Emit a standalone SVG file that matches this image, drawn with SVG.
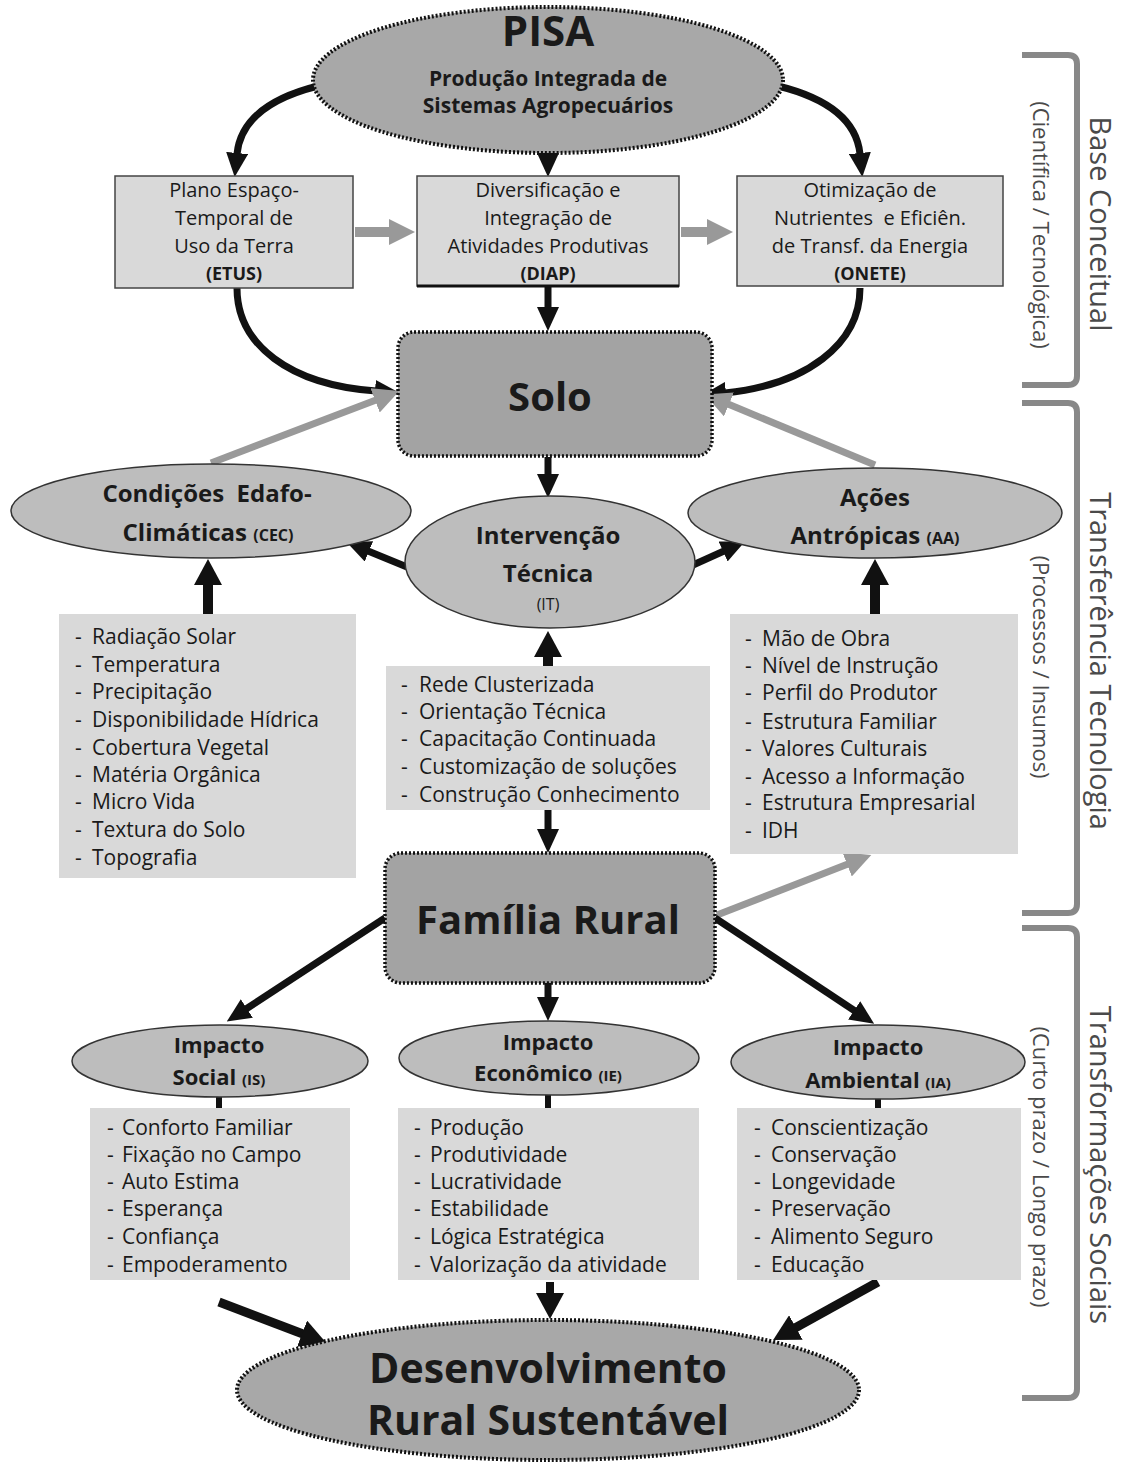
<svg xmlns="http://www.w3.org/2000/svg" width="1124" height="1463" viewBox="0 0 1124 1463">
<style>
text{font-family:"Open Sans","Noto Sans","Liberation Sans",sans-serif;fill:#1a1a1a}
.b{font-weight:bold}
.m{text-anchor:middle}
.li{font-size:21px}
.bx{font-size:20px}
.dot{stroke:#111;stroke-width:4;stroke-dasharray:2 2}
.box{fill:#d9d9d9;stroke:#444;stroke-width:1.5}
.list{fill:#d9d9d9}
.ell{fill:#bdbdbd;stroke:#333;stroke-width:1.5}
.k{fill:none;stroke:#111;stroke-width:7}
.g{fill:none;stroke:#999;stroke-width:7}
.br{fill:none;stroke:#888;stroke-width:6}
.side{fill:#4a4a4a}
</style>
<defs>
<marker id="ak" viewBox="0 0 24 22" markerWidth="24" markerHeight="22" markerUnits="userSpaceOnUse" refX="1" refY="11" orient="auto"><path d="M0,0 L24,11 L0,22 z" fill="#111"/></marker>
<marker id="akb" viewBox="0 0 26 28" markerWidth="26" markerHeight="28" markerUnits="userSpaceOnUse" refX="1" refY="14" orient="auto"><path d="M0,0 L26,14 L0,28 z" fill="#111"/></marker>
<marker id="ag" viewBox="0 0 26 26" markerWidth="26" markerHeight="26" markerUnits="userSpaceOnUse" refX="1" refY="13" orient="auto"><path d="M0,0 L26,13 L0,26 z" fill="#999"/></marker>
</defs>

<g id="connectors">
<path class="k" d="M318 86 Q242 105 237 154" marker-end="url(#ak)"/>
<path class="k" d="M778 86 Q855 105 860 154" marker-end="url(#ak)"/>
<path class="k" d="M548 148 L548 154" marker-end="url(#ak)"/>
<path class="g" style="stroke-width:10" d="M355 232 L390 232" marker-end="url(#ag)"/>
<path class="g" style="stroke-width:10" d="M681 232 L708 232" marker-end="url(#ag)"/>
<path class="k" d="M548 286 L548 308" marker-end="url(#ak)"/>
<path class="k" d="M237 288 C237 345 290 385 376 391" marker-end="url(#ak)"/>
<path class="k" d="M860 288 C860 345 805 385 725 393" marker-end="url(#ak)"/>
<path class="g" d="M211 463 L376 400" marker-end="url(#ag)"/>
<path class="g" d="M875 465 L728 404" marker-end="url(#ag)"/>
<path class="k" d="M548 457 L548 475" marker-end="url(#ak)"/>
<path class="k" d="M407 567 L368 551" marker-end="url(#ak)"/>
<path class="k" d="M693 565 L724 551" marker-end="url(#ak)"/>
<path class="k" style="stroke-width:10" d="M208 614 L208 584" marker-end="url(#akb)"/>
<path class="k" style="stroke-width:10" d="M875 614 L875 584" marker-end="url(#akb)"/>
<path class="k" style="stroke-width:10" d="M548 666 L548 656" marker-end="url(#akb)"/>
<path class="k" d="M548 810 L548 830" marker-end="url(#ak)"/>
<path class="g" d="M717 915 L848 864" marker-end="url(#ag)"/>
<path class="k" d="M385 918 L246 1009" marker-end="url(#ak)"/>
<path class="k" d="M548 983 L548 998" marker-end="url(#ak)"/>
<path class="k" d="M715 918 L855 1011" marker-end="url(#ak)"/>
<path class="k" style="stroke-width:6" d="M219 1096 L219 1108 M548 1094 L548 1108 M878 1097 L878 1108"/>
<path class="k" style="stroke-width:9" d="M219 1302 L303 1334" marker-end="url(#akb)"/>
<path class="k" style="stroke-width:8" d="M550 1282 L550 1294" marker-end="url(#akb)"/>
<path class="k" style="stroke-width:9" d="M878 1282 L795 1328" marker-end="url(#akb)"/>
</g>

<g id="pisa">
<ellipse cx="548" cy="80" rx="235" ry="73" fill="#a8a8a8" class="dot"/>
<text class="b m" x="548" y="46" font-size="42">PISA</text>
<text class="b m" x="548" y="86" font-size="21">Produção Integrada de</text>
<text class="b m" x="548" y="113" font-size="21">Sistemas Agropecuários</text>
</g>

<g id="etus">
<rect class="box" x="115" y="176" width="238" height="112"/>
<text class="m bx" x="234" y="197">Plano Espaço-</text>
<text class="m bx" x="234" y="225">Temporal de</text>
<text class="m bx" x="234" y="253">Uso da Terra</text>
<text class="m b" x="234" y="280" font-size="18">(ETUS)</text>
</g>

<g id="diap">
<rect class="box" x="417" y="176" width="262" height="110"/>
<line x1="417" y1="286" x2="679" y2="286" stroke="#111" stroke-width="3"/>
<text class="m bx" x="548" y="197">Diversificação e</text>
<text class="m bx" x="548" y="225">Integração de</text>
<text class="m bx" x="548" y="253">Atividades Produtivas</text>
<text class="m b" x="548" y="280" font-size="18">(DIAP)</text>
</g>

<g id="onete">
<rect class="box" x="737" y="176" width="266" height="110"/>
<text class="m bx" x="870" y="197">Otimização de</text>
<text class="m bx" x="870" y="225">Nutrientes&#160; e Eficiên.</text>
<text class="m bx" x="870" y="253">de Transf. da Energia</text>
<text class="m b" x="870" y="280" font-size="18">(ONETE)</text>
</g>

<g id="solo">
<rect x="398" y="332" width="314" height="124" rx="16" fill="#a3a3a3" class="dot" style="stroke-width:3.5"/>
<text class="b m" x="550" y="411" font-size="40">Solo</text>
</g>

<g id="cec">
<ellipse class="ell" cx="211" cy="511" rx="200" ry="47"/>
<text class="b m" x="207" y="502" font-size="24">Condições&#160;&#160;Edafo-</text>
<text class="b m" x="208" y="541" font-size="24">Climáticas <tspan font-size="16">(CEC)</tspan></text>
</g>

<g id="it">
<ellipse class="ell" cx="550" cy="562" rx="145" ry="66"/>
<text class="b m" x="548" y="544" font-size="24">Intervenção</text>
<text class="b m" x="548" y="582" font-size="24">Técnica</text>
<text class="m" x="548" y="610" font-size="16">(IT)</text>
</g>

<g id="aa">
<ellipse class="ell" cx="875" cy="513" rx="187" ry="45"/>
<text class="b m" x="875" y="506" font-size="24">Ações</text>
<text class="b m" x="875" y="544" font-size="24">Antrópicas <tspan font-size="16">(AA)</tspan></text>
</g>

<g id="cec-list">
<rect class="list" x="59" y="614" width="297" height="264"/>
<text class="li"><tspan x="75" y="644">-</tspan><tspan x="92">Radiação Solar</tspan></text>
<text class="li"><tspan x="75" y="672">-</tspan><tspan x="92">Temperatura</tspan></text>
<text class="li"><tspan x="75" y="699">-</tspan><tspan x="92">Precipitação</tspan></text>
<text class="li"><tspan x="75" y="727">-</tspan><tspan x="92">Disponibilidade Hídrica</tspan></text>
<text class="li"><tspan x="75" y="755">-</tspan><tspan x="92">Cobertura Vegetal</tspan></text>
<text class="li"><tspan x="75" y="782">-</tspan><tspan x="92">Matéria Orgânica</tspan></text>
<text class="li"><tspan x="75" y="809">-</tspan><tspan x="92">Micro Vida</tspan></text>
<text class="li"><tspan x="75" y="837">-</tspan><tspan x="92">Textura do Solo</tspan></text>
<text class="li"><tspan x="75" y="865">-</tspan><tspan x="92">Topografia</tspan></text>
</g>

<g id="it-list">
<rect class="list" x="386" y="666" width="324" height="144"/>
<text class="li"><tspan x="401" y="692">-</tspan><tspan x="419">Rede Clusterizada</tspan></text>
<text class="li"><tspan x="401" y="719">-</tspan><tspan x="419">Orientação Técnica</tspan></text>
<text class="li"><tspan x="401" y="746">-</tspan><tspan x="419">Capacitação Continuada</tspan></text>
<text class="li"><tspan x="401" y="774">-</tspan><tspan x="419">Customização de soluções</tspan></text>
<text class="li"><tspan x="401" y="802">-</tspan><tspan x="419">Construção Conhecimento</tspan></text>
</g>

<g id="aa-list">
<rect class="list" x="730" y="614" width="288" height="240"/>
<text class="li"><tspan x="745" y="646">-</tspan><tspan x="762">Mão de Obra</tspan></text>
<text class="li"><tspan x="745" y="673">-</tspan><tspan x="762">Nível de Instrução</tspan></text>
<text class="li"><tspan x="745" y="700">-</tspan><tspan x="762">Perfil do Produtor</tspan></text>
<text class="li"><tspan x="745" y="729">-</tspan><tspan x="762">Estrutura Familiar</tspan></text>
<text class="li"><tspan x="745" y="756">-</tspan><tspan x="762">Valores Culturais</tspan></text>
<text class="li"><tspan x="745" y="784">-</tspan><tspan x="762">Acesso a Informação</tspan></text>
<text class="li"><tspan x="745" y="810">-</tspan><tspan x="762">Estrutura Empresarial</tspan></text>
<text class="li"><tspan x="745" y="838">-</tspan><tspan x="762">IDH</tspan></text>
</g>

<g id="familia">
<rect x="385" y="853" width="330" height="130" rx="16" fill="#a3a3a3" class="dot" style="stroke-width:3.5"/>
<text class="b m" x="548" y="934" font-size="40">Família Rural</text>
</g>

<g id="is">
<ellipse class="ell" cx="220" cy="1061" rx="148" ry="36"/>
<text class="b m" x="219" y="1053" font-size="22">Impacto</text>
<text class="b m" x="219" y="1085" font-size="22">Social <tspan font-size="15">(IS)</tspan></text>
</g>

<g id="ie">
<ellipse class="ell" cx="549" cy="1058" rx="150" ry="37"/>
<text class="b m" x="548" y="1050" font-size="22">Impacto</text>
<text class="b m" x="548" y="1081" font-size="22">Econômico <tspan font-size="15">(IE)</tspan></text>
</g>

<g id="ia">
<ellipse class="ell" cx="878" cy="1062" rx="147" ry="37"/>
<text class="b m" x="878" y="1055" font-size="22">Impacto</text>
<text class="b m" x="878" y="1088" font-size="22">Ambiental <tspan font-size="15">(IA)</tspan></text>
</g>

<g id="is-list">
<rect class="list" x="90" y="1108" width="260" height="172"/>
<text class="li"><tspan x="107" y="1135">-</tspan><tspan x="122">Conforto Familiar</tspan></text>
<text class="li"><tspan x="107" y="1162">-</tspan><tspan x="122">Fixação no Campo</tspan></text>
<text class="li"><tspan x="107" y="1189">-</tspan><tspan x="122">Auto Estima</tspan></text>
<text class="li"><tspan x="107" y="1216">-</tspan><tspan x="122">Esperança</tspan></text>
<text class="li"><tspan x="107" y="1244">-</tspan><tspan x="122">Confiança</tspan></text>
<text class="li"><tspan x="107" y="1272">-</tspan><tspan x="122">Empoderamento</tspan></text>
</g>

<g id="ie-list">
<rect class="list" x="398" y="1108" width="301" height="172"/>
<text class="li"><tspan x="414" y="1135">-</tspan><tspan x="430">Produção</tspan></text>
<text class="li"><tspan x="414" y="1162">-</tspan><tspan x="430">Produtividade</tspan></text>
<text class="li"><tspan x="414" y="1189">-</tspan><tspan x="430">Lucratividade</tspan></text>
<text class="li"><tspan x="414" y="1216">-</tspan><tspan x="430">Estabilidade</tspan></text>
<text class="li"><tspan x="414" y="1244">-</tspan><tspan x="430">Lógica Estratégica</tspan></text>
<text class="li"><tspan x="414" y="1272">-</tspan><tspan x="430">Valorização da atividade</tspan></text>
</g>

<g id="ia-list">
<rect class="list" x="737" y="1108" width="284" height="172"/>
<text class="li"><tspan x="754" y="1135">-</tspan><tspan x="771">Conscientização</tspan></text>
<text class="li"><tspan x="754" y="1162">-</tspan><tspan x="771">Conservação</tspan></text>
<text class="li"><tspan x="754" y="1189">-</tspan><tspan x="771">Longevidade</tspan></text>
<text class="li"><tspan x="754" y="1216">-</tspan><tspan x="771">Preservação</tspan></text>
<text class="li"><tspan x="754" y="1244">-</tspan><tspan x="771">Alimento Seguro</tspan></text>
<text class="li"><tspan x="754" y="1272">-</tspan><tspan x="771">Educação</tspan></text>
</g>

<g id="drs">
<ellipse cx="548" cy="1390" rx="311" ry="70" fill="#a8a8a8" class="dot"/>
<text class="b m" x="548" y="1383" font-size="41">Desenvolvimento</text>
<text class="b m" x="548" y="1435" font-size="41">Rural Sustentável</text>
</g>

<g id="side-labels">
<path class="br" d="M1022 55 L1068 55 Q1077 55 1077 64 L1077 376 Q1077 385 1068 385 L1022 385"/>
<path class="br" d="M1022 403 L1068 403 Q1077 403 1077 412 L1077 904 Q1077 913 1068 913 L1022 913"/>
<path class="br" d="M1022 928 L1068 928 Q1077 928 1077 937 L1077 1389 Q1077 1398 1068 1398 L1022 1398"/>
<text class="side m" transform="translate(1090 224) rotate(90)" font-size="29">Base Conceitual</text>
<text class="side m" transform="translate(1033 225) rotate(90)" font-size="22">(Científica / Tecnológica)</text>
<text class="side m" transform="translate(1090 661) rotate(90)" font-size="29">Transferência Tecnologia</text>
<text class="side m" transform="translate(1033 667) rotate(90)" font-size="22">(Processos / Insumos)</text>
<text class="side m" transform="translate(1090 1165) rotate(90)" font-size="29">Transformações Sociais</text>
<text class="side m" transform="translate(1033 1167) rotate(90)" font-size="22">(Curto prazo / Longo prazo)</text>
</g>
</svg>
